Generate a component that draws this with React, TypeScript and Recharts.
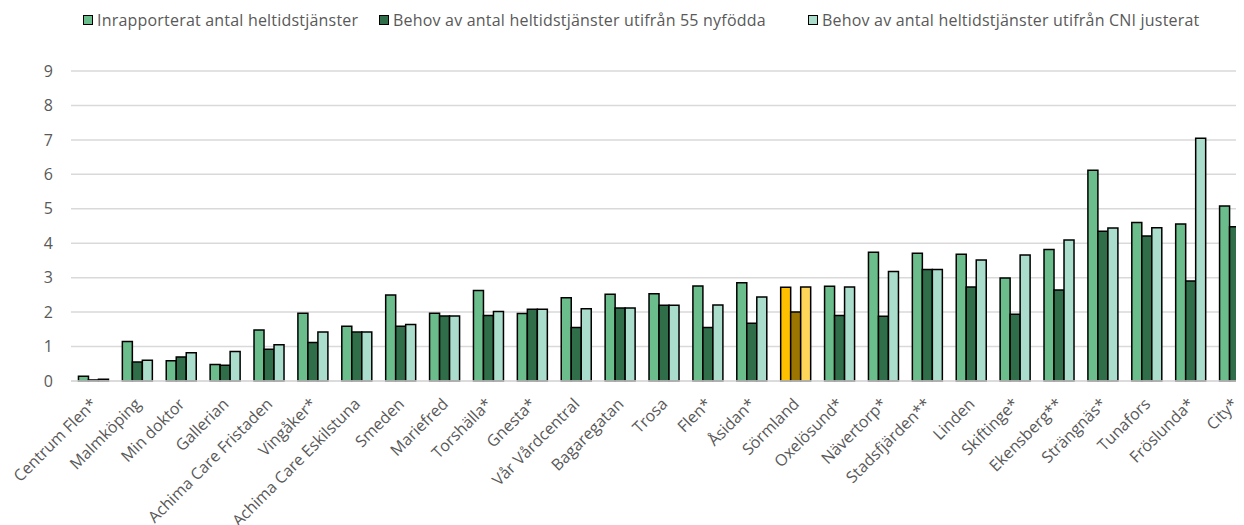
import React from 'react';
import { BarChart, Bar, XAxis, YAxis, CartesianGrid, Legend, Cell } from 'recharts';

const categories = [
  'Centrum Flen*', 'Malmköping', 'Min doktor', 'Gallerian', 'Achima Care Fristaden', 'Vingåker*',
  'Achima Care Eskilstuna', 'Smeden', 'Mariefred', 'Torshälla*', 'Gnesta*', 'Vår Vårdcentral',
  'Bagaregatan', 'Trosa', 'Flen*', 'Åsidan*', 'Sörmland', 'Oxelösund*', 'Nävertorp*', 'Stadsfjärden**',
  'Linden', 'Skiftinge*', 'Ekensberg**', 'Strängnäs*', 'Tunafors', 'Fröslunda*', 'City*',
];

const inrapporterat = [
  0.14, 1.15, 0.59, 0.48, 1.48, 1.97, 1.59, 2.5, 1.97, 2.63, 1.96, 2.42, 2.52, 2.53,
  2.76, 2.85, 2.72, 2.75, 3.74, 3.71, 3.68, 2.99, 3.82, 6.12, 4.6, 4.56, 5.08,
];
const behovNyfodda = [
  0.03, 0.55, 0.7, 0.46, 0.92, 1.12, 1.42, 1.59, 1.89, 1.9, 2.08, 1.55, 2.12, 2.2,
  1.55, 1.68, 2.0, 1.9, 1.88, 3.24, 2.73, 1.94, 2.64, 4.35, 4.21, 2.9, 4.48,
];
const behovCni = [
  0.05, 0.6, 0.82, 0.86, 1.05, 1.42, 1.42, 1.64, 1.89, 2.02, 2.08, 2.1, 2.12, 2.2,
  2.21, 2.44, 2.73, 2.73, 3.18, 3.24, 3.51, 3.66, 4.09, 4.44, 4.45, 7.05, 7.87,
];

const seriesNames = [
  'Inrapporterat antal heltidstjänster',
  'Behov av antal heltidstjänster utifrån 55 nyfödda',
  'Behov av antal heltidstjänster utifrån CNI justerat',
];
const greenColors = ['#6BBD8C', '#2F6E48', '#AADDCC'];
const goldColors = ['#FFC000', '#9C7400', '#FFD55A'];
const highlight = 'Sörmland';

const data = categories.map((name, i) => ({
  name,
  a: inrapporterat[i],
  b: behovNyfodda[i],
  c: behovCni[i],
}));

const FONT = '"Open Sans", Lato, sans-serif';
// legend item widths so the swatches land where the reference puts them
const legendWidths = [296, 429, 430];

const LegendContent = () => (
  <div style={{ display: 'flex', fontFamily: FONT, fontSize: 16, letterSpacing: 0.2, color: '#595959', lineHeight: '20px' }}>
    {seriesNames.map((n, i) => (
      <div key={n} style={{ display: 'flex', alignItems: 'center', width: legendWidths[i] }}>
        <span style={{ width: 8, height: 8, border: '1.5px solid #000', background: greenColors[i], marginRight: 4 }} />
        <span style={{ whiteSpace: 'nowrap' }}>{n}</span>
      </div>
    ))}
  </div>
);

const XTick = (props: any) => {
  const { x, y, payload } = props;
  return (
    <g transform={`translate(${x + 5},${y + 16})`}>
      <text textAnchor="end" transform="rotate(-45)" fill="#595959" fontSize={16} fontFamily={FONT}>
        {payload.value}
      </text>
    </g>
  );
};

const keys = ['a', 'b', 'c'];

export default function App() {
  return (
    <div style={{ width: 1236, height: 517, overflow: 'hidden' }}>
      <BarChart
        width={1248}
        height={517}
        data={data}
        margin={{ top: 30, right: 0, left: 0, bottom: 0 }}
        barCategoryGap="17%"
        barGap={0}
      >
        <CartesianGrid vertical={false} stroke="#D9D9D9" strokeWidth={1.5} />
        <XAxis
          dataKey="name"
          interval={0}
          height={144}
          tickLine={false}
          axisLine={{ stroke: '#D9D9D9', strokeWidth: 1.5 }}
          tick={<XTick />}
        />
        <YAxis
          width={63}
          domain={[0, 9]}
          ticks={[0, 1, 2, 3, 4, 5, 6, 7, 8, 9]}
          axisLine={false}
          tickLine={false}
          tickMargin={12}
          tick={{ fill: '#595959', fontSize: 16, fontFamily: FONT }}
        />
        <Legend
          verticalAlign="top"
          height={33}
          content={<LegendContent />}
          wrapperStyle={{ top: 2, left: 75, width: 'auto' }}
        />
        {keys.map((k, si) => (
          <Bar key={k} dataKey={k} name={seriesNames[si]} fill={greenColors[si]} stroke="#000" strokeWidth={1.5} isAnimationActive={false}>
            {data.map((d) => (
              <Cell key={d.name} fill={d.name === highlight ? goldColors[si] : greenColors[si]} />
            ))}
          </Bar>
        ))}
      </BarChart>
    </div>
  );
}
